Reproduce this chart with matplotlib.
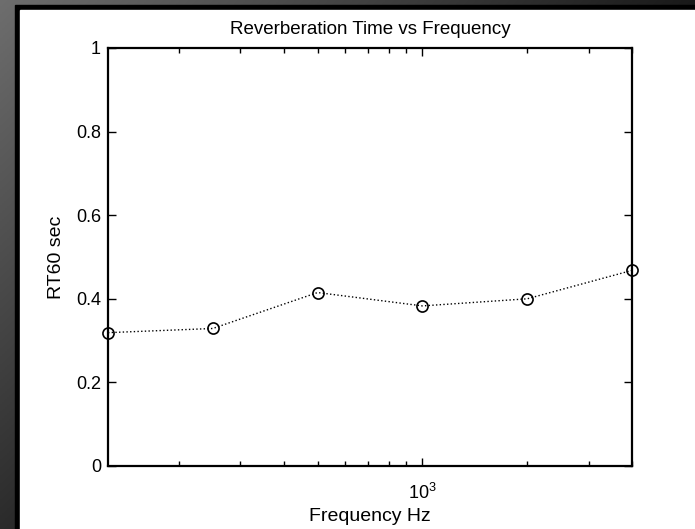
import numpy as np
import matplotlib
matplotlib.use("Agg")
import matplotlib.pyplot as plt
from matplotlib.patches import Rectangle
from matplotlib.ticker import FixedLocator, NullFormatter, FixedFormatter

plt.rcParams['font.family'] = ['Liberation Sans', 'DejaVu Sans']

# Octave-band centre frequencies and measured reverberation times
frequencies = [125, 250, 500, 1000, 2000, 4000]
rt60 = [0.319, 0.329, 0.415, 0.383, 0.400, 0.468]

y_ticks = [0, 0.2, 0.4, 0.6, 0.8, 1]
y_tick_labels = ['0', '0.2', '0.4', '0.6', '0.8', '1']

W, H = 695, 529
fig = plt.figure(figsize=(W / 100, H / 100), dpi=100)

# Slide background: dark grey gradient, black frame, white canvas
bg = fig.add_axes([0, 0, 1, 1], zorder=-10)
xx, yy = np.meshgrid(np.linspace(0, 1, 300), np.linspace(0, 1, 300))
shade = 0.43 - 0.26 * yy - 0.33 * xx
bg.imshow(np.dstack([shade] * 3).clip(0, 1), extent=[0, 1, 0, 1],
          origin='upper', aspect='auto')
bg.add_patch(Rectangle((15 / W, 0), 1, 1 - 5 / H, color='black'))
bg.add_patch(Rectangle((20 / W, 0), 1, 1 - 10 / H, color='white'))
bg.set_xlim(0, 1)
bg.set_ylim(0, 1)
bg.axis('off')

ax = fig.add_axes([108 / W, 1 - 466 / H, 524 / W, 418 / H])
ax.plot(frequencies, rt60, linestyle=':', color='black', linewidth=1.0,
        marker='o', markersize=8, markerfacecolor='none',
        markeredgecolor='black', markeredgewidth=1.2, clip_on=False)

ax.set_xscale('log')
ax.set_xlim(frequencies[0], frequencies[-1])
ax.set_ylim(0, 1)

ax.xaxis.set_major_locator(FixedLocator([1000]))
ax.xaxis.set_major_formatter(FixedFormatter(['$\\mathregular{10^{3}}$']))
minor = [200, 300, 400, 500, 600, 700, 800, 900, 2000, 3000, 4000]
ax.xaxis.set_minor_locator(FixedLocator(minor))
ax.xaxis.set_minor_formatter(NullFormatter())
ax.set_yticks(y_ticks)
ax.set_yticklabels(y_tick_labels)

for s in ax.spines.values():
    s.set_linewidth(1.6)
ax.tick_params(which='both', direction='in', top=True, right=True,
               labelsize=13, width=1.0, colors='black')
ax.tick_params(which='major', length=6)
ax.tick_params(axis='y', which='major', pad=5)
ax.tick_params(axis='x', which='major', pad=12)
ax.tick_params(which='minor', length=3.5)

ax.set_title('Reverberation Time vs Frequency', fontsize=13.5, pad=10)
ax.set_xlabel('Frequency Hz', fontsize=14, labelpad=4)
ax.set_ylabel('RT60 sec', fontsize=14, labelpad=8)

fig.savefig('out.png', dpi=100)
